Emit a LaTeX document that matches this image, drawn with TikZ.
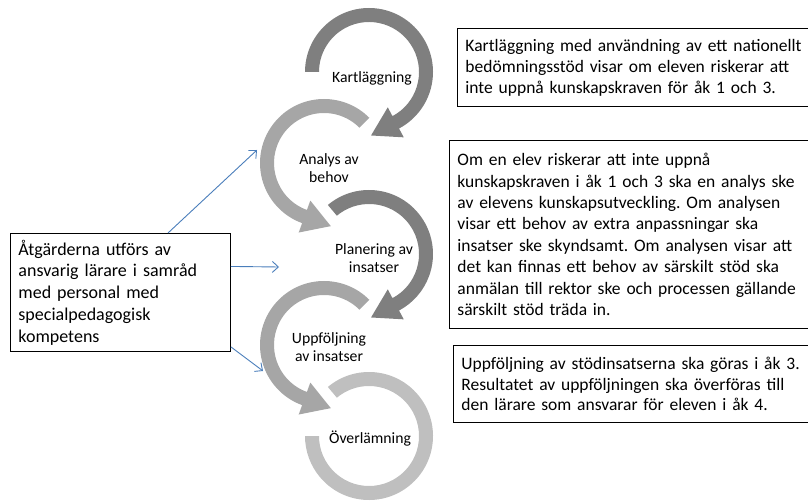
\documentclass[tikz,border=0pt]{standalone}
\usepackage{fontspec}
\setmainfont{Carlito}
\frenchspacing
\definecolor{arcdark}{RGB}{127,127,127}
\definecolor{arcmid}{RGB}{166,166,166}
\definecolor{arclight}{RGB}{191,191,191}
\definecolor{linkblue}{RGB}{74,126,187}
\usepackage{tikz}
\usetikzlibrary{arrows.meta,positioning,calc}

\begin{document}
\begin{tikzpicture}[
      x=1pt, y=1pt,
      note/.style={draw, line width=0.9pt, anchor=north west, align=left, inner xsep=8pt, text width=350pt},
      stage/.style={font=\fontsize{15.7}{18}\selectfont, align=center},
      link/.style={-{Straight Barb[length=6pt,width=11pt]}, linkblue, line width=0.9pt}
    ]
      \useasboundingbox (0,0) rectangle (808,501);

      % Cycle centres
      \coordinate (c1) at (369,429);
      \coordinate (c2) at (324,338);
      \coordinate (c3) at (369,247);
      \coordinate (c4) at (324,156);
      \coordinate (c5) at (369,65);

      % Circular arrows
      \fill[arcdark] ($(c1)+(180:64)$) arc[start angle=180, end angle=-62, radius=64]
        -- ($(c1)+(-62:74)$) -- ($(c1)+(-62:57)+(-152:28)$) -- ($(c1)+(-62:40)$)
        -- ($(c1)+(-62:50)$) arc[start angle=-62, end angle=180, radius=50] -- cycle;
      \fill[arcmid] ($(c2)+(45:64)$) arc[start angle=45, end angle=250, radius=64]
        -- ($(c2)+(250:74)$) -- ($(c2)+(250:57)+(340:28)$) -- ($(c2)+(250:40)$)
        -- ($(c2)+(250:50)$) arc[start angle=250, end angle=45, radius=50] -- cycle;
      \fill[arcdark] ($(c3)+(130:64)$) arc[start angle=130, end angle=-62, radius=64]
        -- ($(c3)+(-62:74)$) -- ($(c3)+(-62:57)+(-152:28)$) -- ($(c3)+(-62:40)$)
        -- ($(c3)+(-62:50)$) arc[start angle=-62, end angle=130, radius=50] -- cycle;
      \fill[arcmid] ($(c4)+(45:64)$) arc[start angle=45, end angle=250, radius=64]
        -- ($(c4)+(250:74)$) -- ($(c4)+(250:57)+(340:28)$) -- ($(c4)+(250:40)$)
        -- ($(c4)+(250:50)$) arc[start angle=250, end angle=45, radius=50] -- cycle;
      \fill[arclight] ($(c5)+(130:64)$) arc[start angle=130, end angle=-180, radius=64]
        -- ($(c5)+(-180:50)$) arc[start angle=-180, end angle=130, radius=50] -- cycle;

      % Stage labels
      \node[stage] (kart) at (372,423) {Kartläggning};
      \node[stage] (analys) at (329,333) {Analys av\\behov};
      \node[stage] (plan) at (374,243) {Planering av\\insatser};
      \node[stage] (uppf) at (329,154) {Uppföljning\\av insatser};
      \node[stage] (overl) at (370,62) {Överlämning};

      % Notes
      \node[note, minimum height=78pt, font=\fontsize{17.5}{21}\selectfont] (noteKart) at (457,473)
        {Kartläggning med användning av ett nationellt\\bedömningsstöd visar om eleven riskerar att\\inte uppnå kunskapskraven för åk 1 och 3.};
      \node[note, minimum height=188pt, font=\fontsize{17.5}{21.4}\selectfont] (noteAnalys) at (449,361)
        {Om en elev riskerar att inte uppnå\\kunskapskraven i åk 1 och 3 ska en analys ske\\av elevens kunskapsutveckling. Om analysen\\visar ett behov av extra anpassningar ska\\insatser ske skyndsamt. Om analysen visar att\\det kan finnas ett behov av särskilt stöd ska\\anmälan till rektor ske och processen gällande\\särskilt stöd träda in.};
      \node[note, minimum height=77pt, font=\fontsize{17.5}{20.5}\selectfont] (noteUppf) at (453,156)
        {Uppföljning av stödinsatserna ska göras i åk 3.\\Resultatet av uppföljningen ska överföras till\\den lärare som ansvarar för eleven i åk 4.};
      \node[note, text width=204pt, minimum height=118pt, font=\fontsize{18}{21.7}\selectfont] (team) at (10,268)
        {Åtgärderna utförs av\\ansvarig lärare i samråd\\med personal med\\specialpedagogisk\\kompetens};

      % Links
      \coordinate (toAnalys) at (257,351);
      \coordinate (toPlan) at (279,234);
      \coordinate (toUppf) at (263,130);
      \draw[link] ($(team.north west)+(158,0)$) -- (toAnalys);
      \draw[link] ($(team.east)+(0,26)$) -- (toPlan);
      \draw[link] ($(team.south east)+(0,5)$) -- (toUppf);
    \end{tikzpicture}
\end{document}
